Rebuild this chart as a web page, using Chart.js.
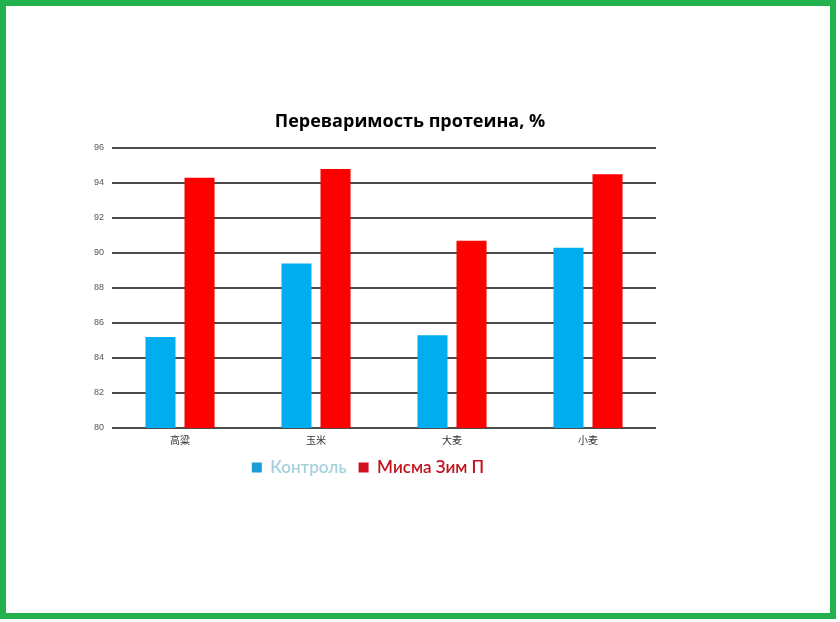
<!DOCTYPE html>
<html>
<head>
<meta charset="utf-8">
<script src="https://cdn.jsdelivr.net/npm/chart.js@4.4.0/dist/chart.umd.min.js"></script>
<style>
  html, body { margin: 0; padding: 0; background: #ffffff; }
  #wrap { position: absolute; left: 0; top: 0; width: 840px; height: 622px; }
  #frame { position: absolute; left: 0; top: 0; width: 836px; height: 619px; box-sizing: border-box;
           border: 6px solid #22b14c; pointer-events: none; }
</style>
</head>
<body>
<div id="wrap"><canvas id="c" width="840" height="622"></canvas></div>
<div id="frame"></div>
<script>
const chartTitle = 'Переваримость протеина, %';
const categories = ['高粱', '玉米', '大麦', '小麦'];
const seriesNames = ['Контроль', 'Мисма Зим П'];
const controlValues = [85.2, 89.4, 85.3, 90.3];
const mismaValues = [94.3, 94.8, 90.7, 94.5];
const yTicks = [80, 82, 84, 86, 88, 90, 92, 94, 96];

const barColors = ['#00aeef', '#fe0000'];
const legendBoxColors = ['#1c9dd8', '#d0101c'];
const legendTextColors = ['#a6d0de', '#c4121c'];

const titlePlugin = {
  id: 'offsetTitle',
  afterDraw(chart) {
    const ctx = chart.ctx;
    const a = chart.chartArea;
    ctx.save();
    ctx.font = 'bold 18px "Open Sans", sans-serif';
    ctx.fillStyle = '#000000';
    ctx.textAlign = 'center';
    ctx.textBaseline = 'middle';
    ctx.fillText(chartTitle, (a.left + a.right) / 2 + 26, 122);
    ctx.restore();
  }
};

new Chart(document.getElementById('c'), {
  type: 'bar',
  data: {
    labels: categories,
    datasets: [
      { label: seriesNames[0], data: controlValues, backgroundColor: barColors[0],
        categoryPercentage: 0.574, barPercentage: 0.77 },
      { label: seriesNames[1], data: mismaValues, backgroundColor: barColors[1],
        categoryPercentage: 0.574, barPercentage: 0.77 }
    ]
  },
  options: {
    responsive: false,
    animation: false,
    devicePixelRatio: 1,
    layout: { padding: { left: 80, right: 184, top: 148, bottom: 136 } },
    plugins: {
      title: { display: false },
      tooltip: { enabled: false },
      legend: {
        position: 'bottom',
        labels: {
          boxWidth: 10,
          boxHeight: 10,
          padding: 12,
          font: { family: 'Lato, "DejaVu Sans", sans-serif', size: 17, weight: '600' },
          generateLabels(chart) {
            return chart.data.datasets.map((ds, i) => ({
              text: ds.label,
              fillStyle: legendBoxColors[i],
              strokeStyle: legendBoxColors[i],
              lineWidth: 0,
              fontColor: legendTextColors[i],
              hidden: false,
              datasetIndex: i
            }));
          }
        }
      }
    },
    scales: {
      x: {
        afterFit(scale) { scale.height = 19; },
        grid: { display: false, drawTicks: false },
        border: { display: false },
        ticks: { color: '#333333', padding: 6, font: { family: '"Noto Sans CJK SC", sans-serif', size: 10 } }
      },
      y: {
        min: 80,
        max: 96,
        afterFit(scale) { scale.width = 32; },
        afterBuildTicks(scale) { scale.ticks = yTicks.map(v => ({ value: v })); },
        border: { display: false },
        grid: { color: '#4a4a4a', lineWidth: 2, drawTicks: false },
        ticks: { color: '#555555', padding: 8, font: { family: '"Liberation Sans", sans-serif', size: 9 } }
      }
    }
  },
  plugins: [titlePlugin]
});
</script>
</body>
</html>
